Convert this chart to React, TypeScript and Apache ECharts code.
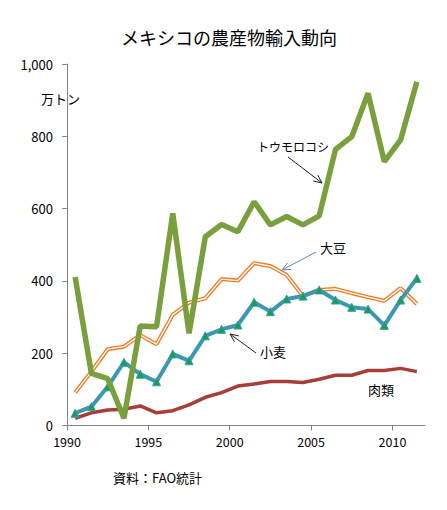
import React, { useEffect, useRef } from "react";
import * as echarts from "echarts";

const years = [1990,1991,1992,1993,1994,1995,1996,1997,1998,1999,2000,2001,2002,2003,2004,2005,2006,2007,2008,2009,2010,2011];
const corn = [411,144,130,20,275,273,587,255,522,556,536,619,555,578,555,580,764,799,919,730,790,951];
const soybean = [91,149,211,218,250,225,306,340,352,405,401,449,441,416,358,375,378,366,355,345,380,336];
const wheat = [34,52,107,175,142,121,198,179,248,266,278,341,315,350,358,375,347,327,322,277,347,407];
const meat = [20,35,43,45,54,35,41,57,78,91,109,115,122,122,119,128,139,139,152,152,158,149];
const xTicks = [1990,1995,2000,2005,2010];
const yTicks = [0,200,400,600,800,1000];

const FONT = "'Noto Sans CJK JP', 'DejaVu Sans', sans-serif";

function pts(vals: number[]) {
  return vals.map((v, i) => [years[i] + 0.5, v]);
}

function arrow(x1: number, y1: number, x2: number, y2: number, color: string, w = 1) {
  const ang = Math.atan2(y2 - y1, x2 - x1);
  const L = 9, a = 0.42;
  const p1 = [x2 - L * Math.cos(ang - a), y2 - L * Math.sin(ang - a)];
  const p2 = [x2 - L * Math.cos(ang + a), y2 - L * Math.sin(ang + a)];
  return [
    { type: "line", shape: { x1, y1, x2, y2 }, style: { stroke: color, lineWidth: w } },
    { type: "polyline", shape: { points: [p1, [x2, y2], p2] }, style: { stroke: color, lineWidth: w, fill: null } },
  ];
}

export default function App() {
  const ref = useRef<HTMLDivElement>(null);
  useEffect(() => {
    const chart = echarts.init(ref.current!, null, { renderer: "svg" });
    const label = (text: string, x: number, y: number, size = 13) => ({
      type: "text", x, y,
      style: { text, fontSize: size, fontFamily: FONT, fill: "#000", textAlign: "left", textVerticalAlign: "middle" },
    });
    chart.setOption({
      animation: false,
      backgroundColor: "#fff",
      grid: { left: 67, right: 22, top: 64, bottom: 84.5, containLabel: false },
      xAxis: {
        type: "value", min: 1990, max: 2012, interval: 5,
        splitLine: { show: false },
        axisLine: { lineStyle: { color: "#868686" } },
        axisTick: { show: true, length: 5, customValues: xTicks, lineStyle: { color: "#868686" } },
        axisLabel: { customValues: xTicks, fontSize: 12.5, color: "#000", fontFamily: FONT, margin: 10,
          formatter: (v: number) => String(v) },
      },
      yAxis: {
        type: "value", min: 0, max: 1000, interval: 200,
        splitLine: { show: false },
        axisLine: { show: true, lineStyle: { color: "#868686" } },
        axisTick: { show: true, length: 5, customValues: yTicks, lineStyle: { color: "#868686" } },
        axisLabel: {
          customValues: yTicks, fontSize: 13, color: "#000", fontFamily: FONT, margin: 14,
          formatter: (v: number) => v.toLocaleString("en-US"),
        },
      },
      series: [
        { type: "line", name: "肉類", data: pts(meat), showSymbol: false, lineStyle: { color: "#a83d39", width: 3.5 }, z: 2 },
        { type: "line", name: "大豆", data: pts(soybean), showSymbol: false, lineStyle: { color: "#f07b22", width: 4 }, z: 3 },
        { type: "line", name: "大豆2", data: pts(soybean), showSymbol: false, lineStyle: { color: "#ffffff", width: 1.3 }, z: 4 },
        { type: "line", name: "小麦", data: pts(wheat), symbol: "triangle", symbolSize: 8, showSymbol: true,
          lineStyle: { color: "#3a98b3", width: 4 },
          itemStyle: { color: "#17a04a", borderColor: "#3a98b3", borderWidth: 1 }, z: 5 },
        { type: "line", name: "トウモロコシ", data: pts(corn), showSymbol: false, lineStyle: { color: "#7aa03e", width: 5.5 }, z: 6 },
      ],
      graphic: [
        { type: "text", x: 229, y: 37, style: { text: "メキシコの農産物輸入動向", fontSize: 18, fontFamily: FONT, fill: "#000", textAlign: "center", textVerticalAlign: "middle" } },
        label("万トン", 41, 98, 13),
        label("トウモロコシ", 257, 146, 12),
        ...arrow(288, 157, 322, 183, "#222"),
        label("大豆", 320, 247, 13),
        ...arrow(316, 252, 282, 270, "#5b87cf"),
        label("小麦", 260, 351, 13),
        ...arrow(256, 353, 230, 334, "#222"),
        label("肉類", 368, 389, 13),
        label("資料：FAO統計", 113, 477, 13),
      ],
    });
    return () => chart.dispose();
  }, []);
  return <div ref={ref} style={{ position: "absolute", left: 0, top: 0, width: 447, height: 510 }} />;
}
